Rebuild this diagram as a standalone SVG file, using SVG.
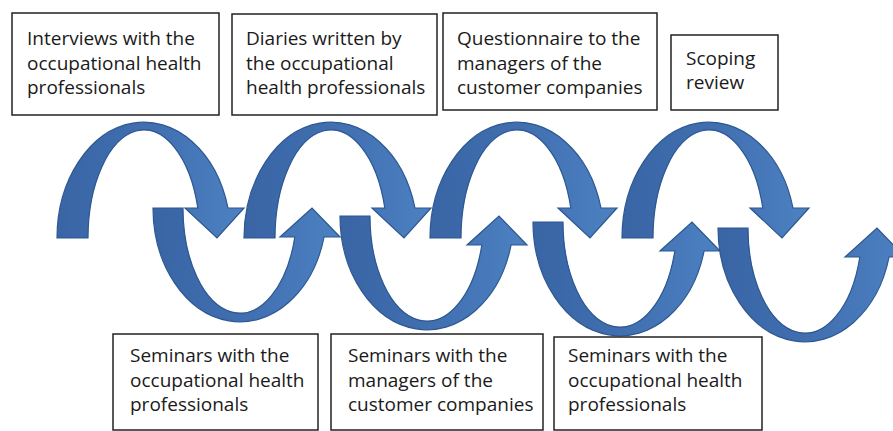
<svg xmlns="http://www.w3.org/2000/svg" width="893" height="431" viewBox="0 0 893 431">
<style>
.box{fill:#fff;stroke:#222;stroke-width:1.5}
.t{font-family:"Open Sans","Noto Sans","Liberation Sans",sans-serif;font-size:19px;fill:#1a1a1a}
.arr{fill:url(#g);stroke:#2C5790;stroke-width:1.2;stroke-linejoin:miter}
</style>
<defs>
<linearGradient id="g" x1="0" y1="0" x2="1" y2="0">
<stop offset="0" stop-color="#3965A5"/>
<stop offset="0.5" stop-color="#416FB0"/>
<stop offset="1" stop-color="#4C81C2"/>
</linearGradient>
</defs>
<rect width="893" height="431" fill="#fff"/>
<g id="connectors">
<path class="arr" d="M153,208 A87 114 0 0 0 324.1,237 L340,237 L312,208 L280,237 L294.8,237 A57 105 0 0 1 183,208 Z"/>
<path class="arr" d="M340,216 A87 114 0 0 0 511.1,245 L527,245 L499,216 L467,245 L481.8,245 A57 105 0 0 1 370,216 Z"/>
<path class="arr" d="M533,222 A87 114 0 0 0 704.1,251 L720,251 L692,222 L660,251 L674.8,251 A57 105 0 0 1 563,222 Z"/>
<path class="arr" d="M718,228 A87 114 0 0 0 889.1,257 L905,257 L877,228 L845,257 L859.8,257 A57 105 0 0 1 748,228 Z"/>
<path class="arr" d="M57,238 A87 116 0 0 1 228,208 L244,208 L217,238 L185,208 L197.8,208 A56 108 0 0 0 88,238 Z"/>
<path class="arr" d="M244,238 A87 116 0 0 1 415,208 L431,208 L404,238 L372,208 L384.8,208 A56 108 0 0 0 275,238 Z"/>
<path class="arr" d="M430,238 A87 116 0 0 1 601,208 L617,208 L590,238 L558,208 L570.8,208 A56 108 0 0 0 461,238 Z"/>
<path class="arr" d="M622,238 A87 116 0 0 1 793,208 L809,208 L782,238 L750,208 L762.8,208 A56 108 0 0 0 653,238 Z"/>
</g>
<g id="n1"><rect class="box" x="12" y="13" width="207" height="102"/>
<text class="t" x="27" y="45">Interviews with the</text><text class="t" x="27" y="70">occupational health</text><text class="t" x="27" y="94">professionals</text></g>
<g id="n2"><rect class="box" x="232" y="14" width="205" height="101"/>
<text class="t" x="246" y="45">Diaries written by</text><text class="t" x="246" y="70">the occupational</text><text class="t" x="246" y="94">health professionals</text></g>
<g id="n3"><rect class="box" x="443" y="13" width="214" height="97"/>
<text class="t" x="457" y="45">Questionnaire to the</text><text class="t" x="457" y="70">managers of the</text><text class="t" x="457" y="94">customer companies</text></g>
<g id="n4"><rect class="box" x="671" y="35" width="107" height="75"/>
<text class="t" x="686" y="65">Scoping</text><text class="t" x="686" y="89">review</text></g>
<g id="n5"><rect class="box" x="113" y="334" width="205" height="96"/>
<text class="t" x="130" y="362">Seminars with the</text><text class="t" x="130" y="387">occupational health</text><text class="t" x="130" y="411">professionals</text></g>
<g id="n6"><rect class="box" x="331" y="334" width="212" height="96"/>
<text class="t" x="348" y="362">Seminars with the</text><text class="t" x="348" y="387">managers of the</text><text class="t" x="348" y="411">customer companies</text></g>
<g id="n7"><rect class="box" x="554" y="337" width="208" height="93"/>
<text class="t" x="568" y="362">Seminars with the</text><text class="t" x="568" y="387">occupational health</text><text class="t" x="568" y="411">professionals</text></g>
</svg>
